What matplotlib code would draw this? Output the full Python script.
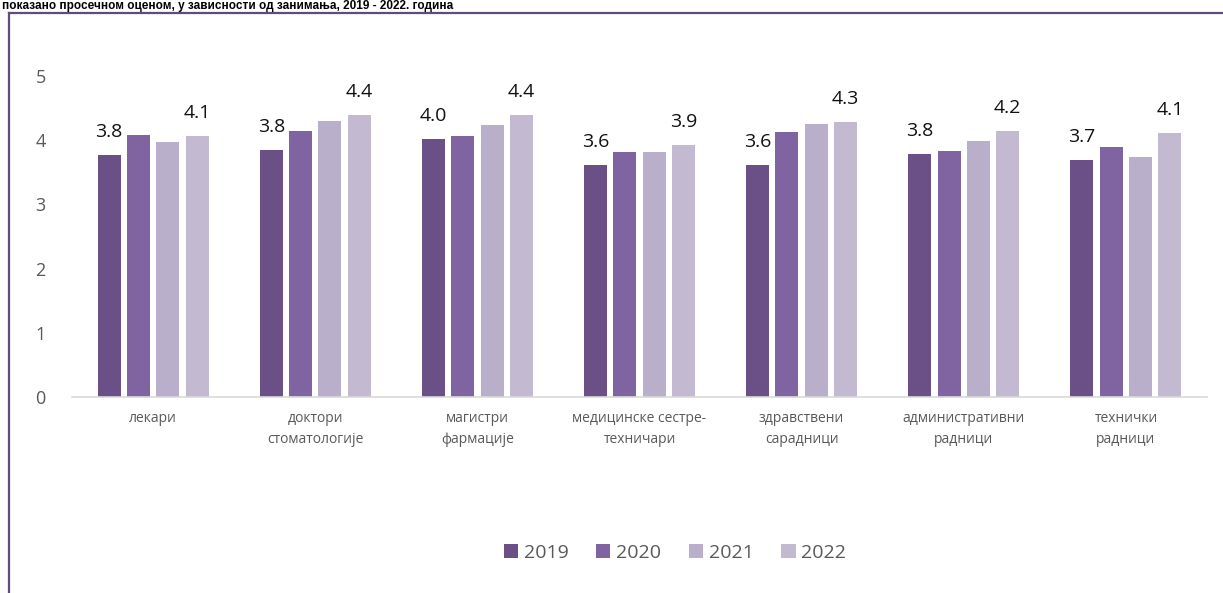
import matplotlib.pyplot as plt
from matplotlib.lines import Line2D
import numpy as np

plt.rcParams['font.family'] = ['Open Sans', 'DejaVu Sans']

categories = ['лекари', 'доктори\nстоматологије', 'магистри\nфармације',
              'медицинске сестре-\nтехничари', 'здравствени\nсарадници',
              'административни\nрадници', 'технички\nрадници']
years = ['2019', '2020', '2021', '2022']
v2019 = [3.77, 3.84, 4.02, 3.62, 3.62, 3.78, 3.69]
v2020 = [4.08, 4.15, 4.06, 3.82, 4.13, 3.83, 3.89]
v2021 = [3.97, 4.30, 4.24, 3.82, 4.26, 3.99, 3.74]
v2022 = [4.06, 4.39, 4.39, 3.93, 4.29, 4.15, 4.11]
series = [v2019, v2020, v2021, v2022]
labeled = ['2019', '2022']
colors = ['#6A5087', '#8064A2', '#B9AFCA', '#C3B9D1']
title = 'показано просечном оценом, у зависности од занимања, 2019 - 2022. година'

W, H = 1223, 593
fig = plt.figure(figsize=(W / 100, H / 100), dpi=100)
ax = fig.add_axes([72 / W, 1 - 397 / H, (1207 - 72) / W, (397 - 76) / H])

x = np.arange(len(categories))
step = 0.181
width = 0.142
for i, (yr, vals) in enumerate(zip(years, series)):
    pos = x + (i - 1.5) * step
    bars = ax.bar(pos, vals, width, color=colors[i], label=yr, zorder=2)
    if yr in labeled:
        for b, v in zip(bars, vals):
            ax.annotate(f'{v:.1f}', (b.get_x() + b.get_width() / 2, v),
                        xytext=(0, 13), textcoords='offset points',
                        ha='center', va='baseline', fontsize=14, color='#111111')

ax.set_xlim(-0.5, len(categories) - 0.5)
ax.set_ylim(0, 5)
ax.set_yticks(range(6))
ax.set_xticks(x)
ax.set_xticklabels(categories, fontsize=10, color='#595959', linespacing=1.6)
ax.tick_params(axis='y', length=0, pad=19, labelsize=13, labelcolor='#595959')
ax.tick_params(axis='x', length=0, pad=10)
for s in ['top', 'right', 'left']:
    ax.spines[s].set_visible(False)
ax.spines['bottom'].set_color('#D9D9D9')
ax.spines['bottom'].set_linewidth(1.2)

fig.legend(loc='center', bbox_to_anchor=(675 / W, 1 - 553 / H), ncol=4, frameon=False,
           fontsize=14, handlelength=0.75, handleheight=0.75, handletextpad=0.3,
           columnspacing=1.4, labelcolor='#595959')

# outer frame (partly outside the image)
border = '#5F4B7E'
fig.add_artist(Line2D([8.5 / W, 1], [1 - 13 / H, 1 - 13 / H], color=border, lw=1.6))
fig.add_artist(Line2D([8.5 / W, 8.5 / W], [0, 1 - 13 / H], color=border, lw=1.6))

# title strip above the frame
fig.text(2 / W, 1 - 0.5 / H, title, fontsize=8.5, fontweight='bold', family='Liberation Sans',
         ha='left', va='top', color='black')

fig.savefig('out.png', dpi=100)
